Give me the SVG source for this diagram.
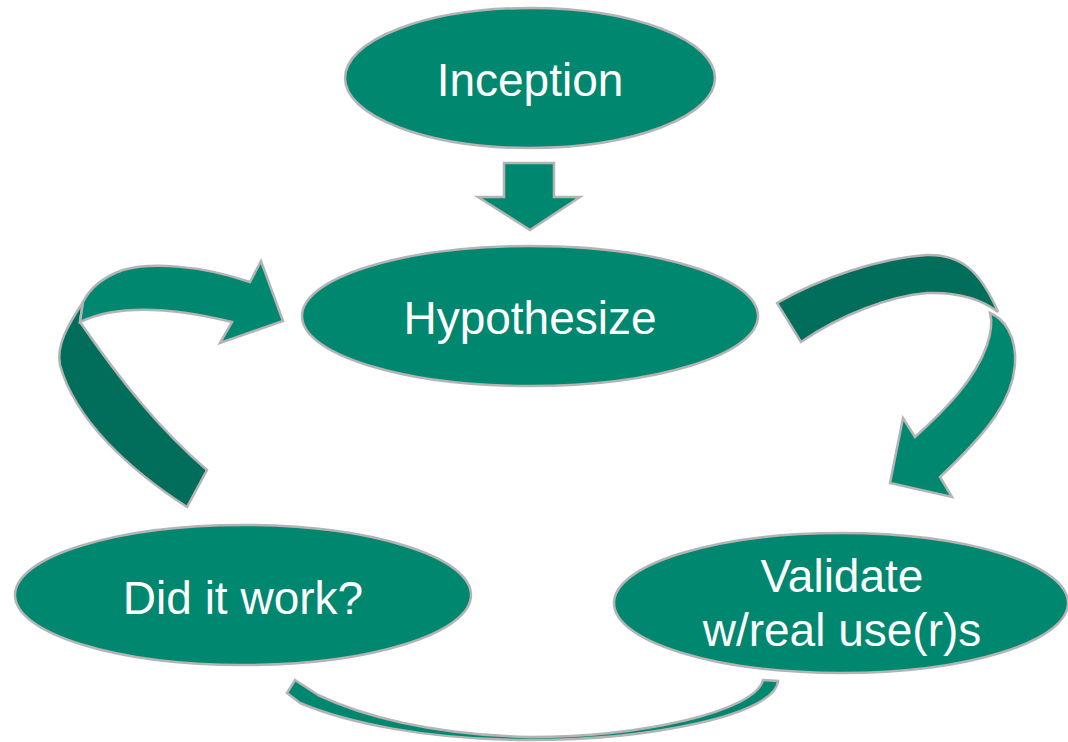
<svg xmlns="http://www.w3.org/2000/svg" width="1068" height="742" viewBox="0 0 1068 742">
<style>
.node{fill:#00876F;stroke:#B4B4B4;stroke-width:2.5}
.lbl{font-family:"Liberation Sans",Arial,sans-serif;font-size:46px;fill:#FFFFFF;text-anchor:middle}
.arr{fill:#00876F;stroke:#B4B4B4;stroke-width:2.5;stroke-linejoin:miter}
.dark{fill:#006E5A;stroke:#B4B4B4;stroke-width:2.5}
</style>
<rect width="1068" height="742" fill="#FFFFFF"/>
<g id="connectors">
<path class="arr" d="M504,163 L554,163 L554,197 L580,197 L530,230 L478,197 L504,197 Z"/>
<g id="loop-left">
<path class="dark" d="M83,302 L80,322 C120,380 160,430 207,470 L187,507 C130,470 75,420 60,365 C56,345 68,325 83,302 Z"/>
<path class="arr" d="M80,322 C105,310 150,302 232,322 L220,343 L283,321 L261,261 L250,282 C200,265 150,262 123,270 C103,277 90,288 83,302 Z"/>
</g>
<g id="loop-right">
<path class="dark" d="M777,303 C820,278 880,258 927,255 C960,254 980,270 998,312 C980,298 955,292 927,293 C890,296 840,315 801,342 Z"/>
<path class="arr" d="M990,313 C1003,318 1017,335 1015,365 C1012,400 990,430 940,477 L952,497 L890,483 L903,418 L915,437 C945,410 975,380 987,345 C992,330 992,320 990,313 Z"/>
</g>
<path class="arr" d="M763,680 L778,681 C775,715 650,740 530,740 C425,740 345,722 300,703 L287,693 L295,680 L318,695 C360,715 430,735 530,737 C640,737 755,712 763,680 Z"/>
</g>
<g id="node-inception">
<ellipse class="node" cx="530" cy="78" rx="185" ry="70"/>
<text class="lbl" x="530" y="96">Inception</text>
</g>
<g id="node-hypothesize">
<ellipse class="node" cx="530" cy="316" rx="228" ry="70"/>
<text class="lbl" x="530" y="334">Hypothesize</text>
</g>
<g id="node-didit">
<ellipse class="node" cx="243" cy="595" rx="228" ry="70"/>
<text class="lbl" x="243" y="614">Did it work?</text>
</g>
<g id="node-validate">
<ellipse class="node" cx="841" cy="603" rx="227" ry="70"/>
<text class="lbl" x="842" y="592">Validate</text>
<text class="lbl" x="842" y="646">w/real use(r)s</text>
</g>
</svg>
